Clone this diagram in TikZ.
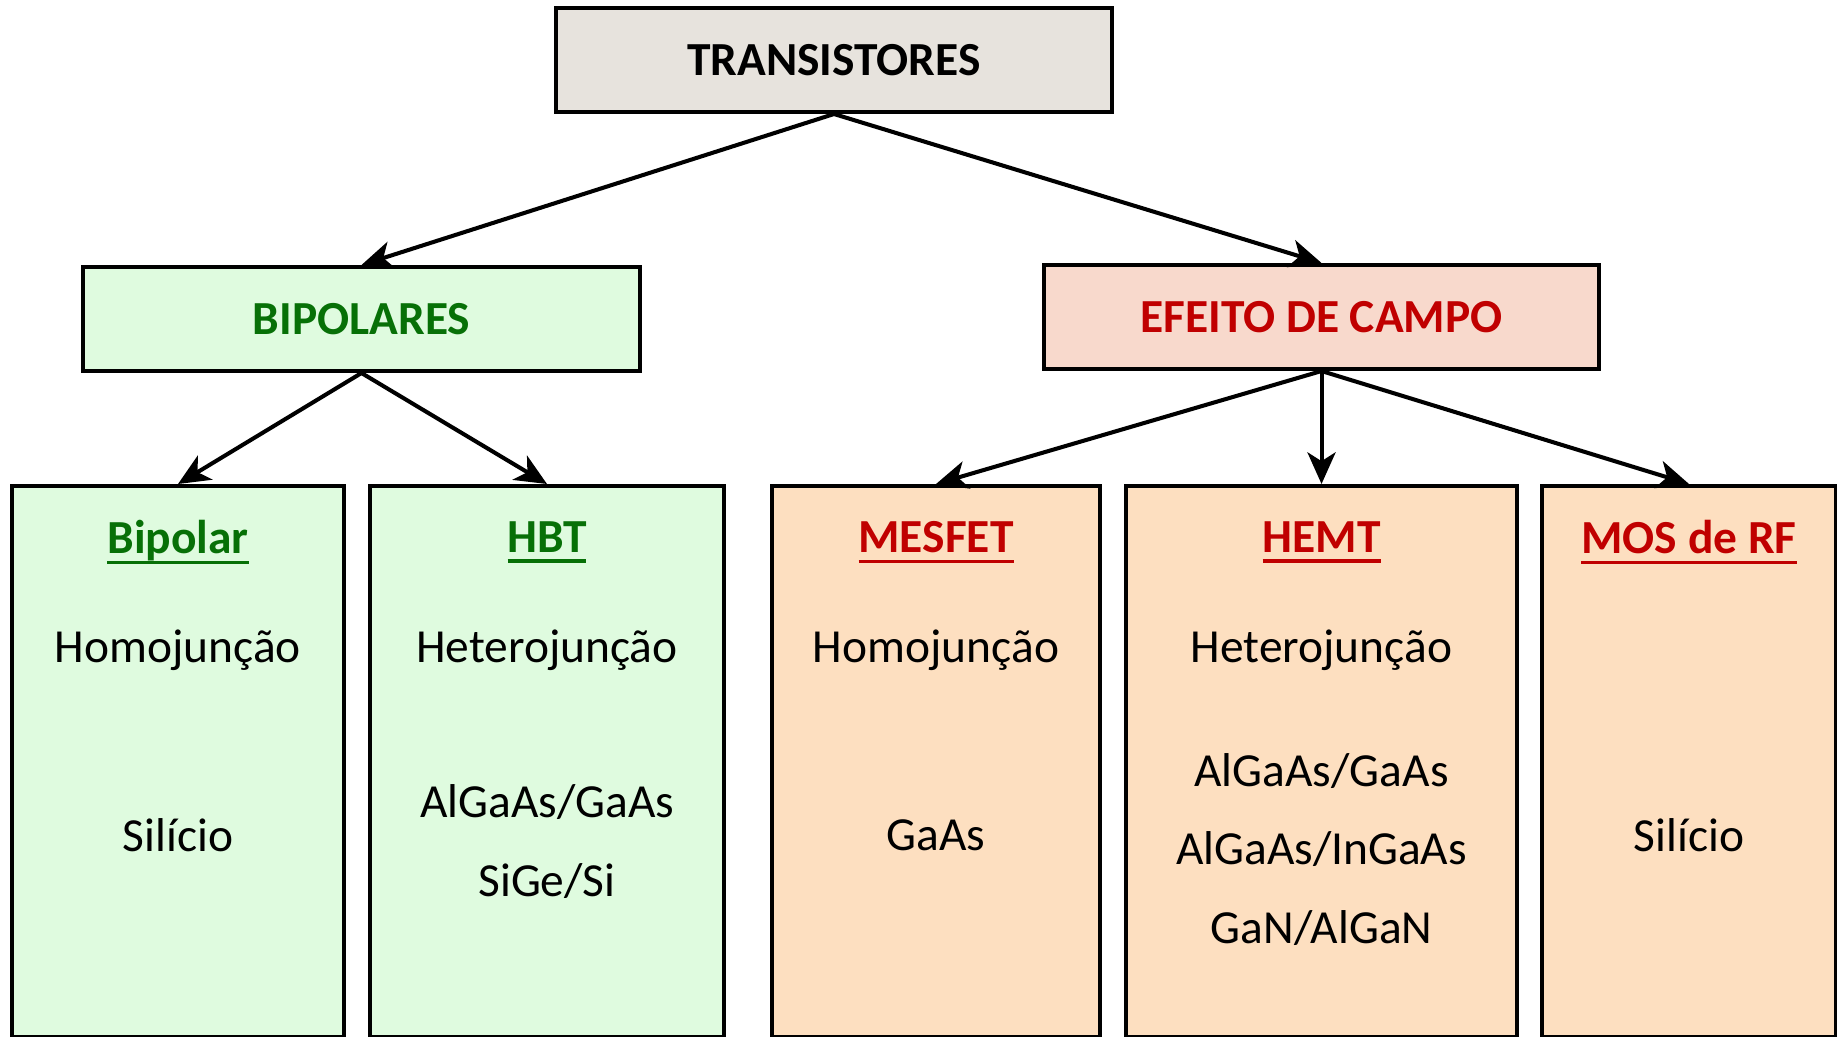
\documentclass[tikz,border=0pt]{standalone}
\usepackage{fontspec}
\setmainfont{Carlito}
\usepackage{xcolor}
\usetikzlibrary{arrows.meta}

\definecolor{fundocinza}{HTML}{E7E3DD}
\definecolor{fundoverde}{HTML}{DFFBDF}
\definecolor{fundorosa}{HTML}{F8D9CC}
\definecolor{fundolaranja}{HTML}{FDDFC0}
\definecolor{verdeescuro}{HTML}{077007}
\definecolor{vermelho}{HTML}{C00000}

\newcommand{\sublinha}[1]{\setbox0\hbox{#1}\rlap{\rule[-3pt]{\wd0}{0.9pt}}\box0}

\begin{document}
\begin{tikzpicture}[
    font=\fontsize{13.5}{16}\selectfont,
    caixa/.style={draw, line width=1.15pt, inner sep=0pt},
    coluna/.style={caixa, anchor=north, minimum height=5.51cm},
    seta/.style={line width=1.15pt, -{Stealth[length=9pt, width=8pt, inset=2.5pt]}},
    titulo/.style={font=\fontsize{13.5}{16}\selectfont\bfseries},
]
\useasboundingbox (0,0) rectangle (18.37,10.36);

% topo e ramos
\node[caixa, fill=fundocinza, minimum width=5.56cm, minimum height=1.04cm] (trans) at (8.34,9.76) {\bfseries TRANSISTORES};
\node[caixa, fill=fundoverde, minimum width=5.57cm, minimum height=1.04cm, text=verdeescuro] (bipolares) at (3.615,7.17) {\bfseries BIPOLARES};
\node[caixa, fill=fundorosa, minimum width=5.55cm, minimum height=1.04cm, text=vermelho] (campo) at (13.215,7.19) {\bfseries EFEITO DE CAMPO};

% colunas de baixo
\node[coluna, fill=fundoverde, minimum width=3.32cm] (bip) at (1.78,5.52) {};
\node[coluna, fill=fundoverde, minimum width=3.54cm] (hbt) at (5.47,5.52) {};
\node[coluna, fill=fundolaranja, minimum width=3.28cm] (mesfet) at (9.36,5.52) {};
\node[coluna, fill=fundolaranja, minimum width=3.91cm] (hemt) at (13.215,5.52) {};
\node[coluna, fill=fundolaranja, minimum width=2.94cm] (mos) at (16.89,5.52) {};

% textos
\node[titulo, text=verdeescuro] (tbip) at ([yshift=-0.58cm]bip.north) {\sublinha{Bipolar}};
\node (bip1) at ([yshift=-1.66cm]bip.north) {Homojunção};
\node (bip2) at ([yshift=-3.51cm]bip.north) {Silício};

\node[titulo, text=verdeescuro] (thbt) at ([yshift=-0.58cm]hbt.north) {\sublinha{HBT}};
\node (hbt1) at ([yshift=-1.66cm]hbt.north) {Heterojunção};
\node (hbt2) at ([yshift=-3.18cm]hbt.north) {AlGaAs/GaAs};
\node (hbt3) at ([yshift=-3.97cm]hbt.north) {SiGe/Si};

\node[titulo, text=vermelho] (tmesfet) at ([yshift=-0.58cm]mesfet.north) {\sublinha{MESFET}};
\node (mesfet1) at ([yshift=-1.66cm]mesfet.north) {Homojunção};
\node (mesfet2) at ([yshift=-3.51cm]mesfet.north) {GaAs};

\node[titulo, text=vermelho] (themt) at ([yshift=-0.58cm]hemt.north) {\sublinha{HEMT}};
\node (hemt1) at ([yshift=-1.66cm]hemt.north) {Heterojunção};
\node (hemt2) at ([yshift=-2.87cm]hemt.north) {AlGaAs/GaAs};
\node (hemt3) at ([yshift=-3.65cm]hemt.north) {AlGaAs/InGaAs};
\node (hemt4) at ([yshift=-4.44cm]hemt.north) {GaN/AlGaN};

\node[titulo, text=vermelho] (tmos) at ([yshift=-0.58cm]mos.north) {\sublinha{MOS de RF}};
\node (mos1) at ([yshift=-3.51cm]mos.north) {Silício};

% setas
\draw[seta] (trans.south) -- (bipolares.north);
\draw[seta] (trans.south) -- (campo.north);
\draw[seta] (bipolares.south) -- (bip.north);
\draw[seta] (bipolares.south) -- (hbt.north);
\draw[seta] (campo.south) -- (mesfet.north);
\draw[seta] (campo.south) -- (hemt.north);
\draw[seta] (campo.south) -- (mos.north);
\end{tikzpicture}
\end{document}
